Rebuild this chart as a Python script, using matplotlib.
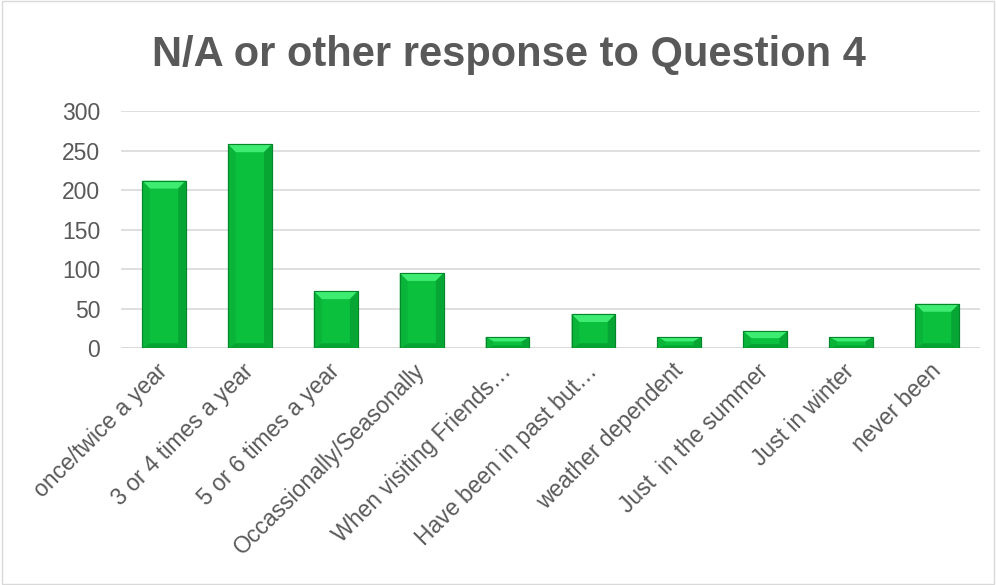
import matplotlib
matplotlib.use("Agg")
import matplotlib.pyplot as plt
from matplotlib.patches import Rectangle, Polygon

categories = ["once/twice a year", "3 or 4 times a year", "5 or 6 times a year",
              "Occassionally/Seasonally", "When visiting Friends\u2026", "Have been in past but\u2026",
              "weather dependent", "Just  in the summer", "Just in winter", "never been"]
values = [212, 258, 72, 95, 14, 43, 14, 21, 14, 56]
yticks = [0, 50, 100, 150, 200, 250, 300]
title = "N/A or other response to Question 4"

plt.rcParams['font.family'] = ['Liberation Sans', 'DejaVu Sans']
fig = plt.figure(figsize=(9.96, 5.85), dpi=100)
ax = fig.add_axes([0.1215, 0.405, 0.8625, 0.405])

x = list(range(len(categories)))
bars = ax.bar(x, values, width=0.51, color="#0ac03d", edgecolor="#04862b", linewidth=0.8, zorder=3)

for b in bars:
    x0, w, h = b.get_x(), b.get_width(), b.get_height()
    by = min(10, h * 0.4)
    bx = 0.09
    top = Polygon([(x0, h), (x0 + w, h), (x0 + w - bx, h - by), (x0 + bx, h - by)],
                  closed=True, facecolor="#3fec72", edgecolor="none", zorder=3.5)
    bot = Polygon([(x0, 0), (x0 + w, 0), (x0 + w - bx, by * 0.6), (x0 + bx, by * 0.6)],
                  closed=True, facecolor="#06a232", edgecolor="none", zorder=3.5)
    left = Polygon([(x0, 0), (x0 + bx, by * 0.6), (x0 + bx, h - by), (x0, h)],
                   closed=True, facecolor="#09b438", edgecolor="none", zorder=3.5)
    right = Polygon([(x0 + w, 0), (x0 + w - bx, by * 0.6), (x0 + w - bx, h - by), (x0 + w, h)],
                    closed=True, facecolor="#07a533", edgecolor="none", zorder=3.5)
    for p in (top, bot, left, right):
        ax.add_patch(p)
    ax.add_patch(Rectangle((x0, 0), w, h, facecolor="none", edgecolor="#04862b",
                           linewidth=0.8, zorder=3.7))

ax.set_xlim(-0.5, len(categories) - 0.5)
ax.set_ylim(0, 300)
ax.set_yticks(yticks)
ax.set_yticklabels([str(v) for v in yticks], fontsize=16.5, color="#595959")
ax.set_xticks(x)
ax.set_xticklabels(categories, rotation=45, ha="right", va="center", rotation_mode="anchor",
                   fontsize=16.5, color="#595959")
ax.tick_params(axis="both", length=0)
ax.tick_params(axis="y", pad=15)
ax.tick_params(axis="x", pad=14)
ax.grid(axis="y", color="#d9d9d9", linewidth=1.2, zorder=0)
for s in ax.spines.values():
    s.set_visible(False)
ax.axhline(0, color="#d9d9d9", linewidth=1.2, zorder=1)

fig.text(0.511, 0.906, title, ha="center", va="center", fontsize=30, fontweight="bold", color="#595959")
fig.patches.append(Rectangle((0.002, 0.002), 0.996, 0.996, transform=fig.transFigure,
                             fill=False, edgecolor="#d9d9d9", linewidth=1))
fig.savefig("out.png", dpi=100, facecolor="white")
